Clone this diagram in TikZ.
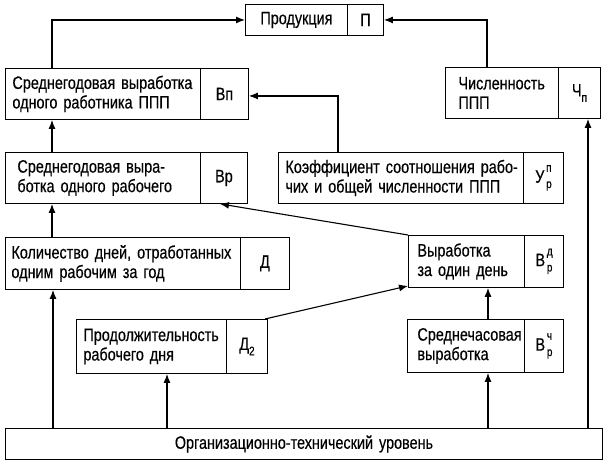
\documentclass[tikz,border=0pt]{standalone}
\usepackage{fontspec}
\setmainfont[FakeStretch=0.8,FakeBold=0.4,WordSpace=1.5]{Liberation Sans}
\usetikzlibrary{arrows.meta}
\newcommand\dfont{\fontsize{18}{19.5}\selectfont}
\newcommand\smfont{\fontsize{12.5}{12.5}\selectfont}
\newcommand\ssym[3]{#1\kern0.1em\rlap{\raisebox{0.6em}{\smfont #2}}\raisebox{-0.3em}{\smfont #3}}
\tikzset{
  bx/.style={draw, line width=0.9pt, anchor=north west, inner ysep=0pt, align=left, font=\dfont},
  sym/.style={draw, line width=0.9pt, anchor=north west, inner sep=0pt, align=center, font=\dfont},
  arr/.style={line width=1.1pt, -{Latex[length=9pt,width=7pt]}},
}
\begin{document}
\begin{tikzpicture}[x=1pt,y=-1pt]
\useasboundingbox (0,0) rectangle (609,466);
% top
\node[bx, inner xsep=0pt, text width=102pt, minimum height=31pt, align=center] (prodT) at (245,4) {Продукция};
\node[sym, minimum width=36pt, minimum height=31pt] (prodS) at (347,4) {П};
% row 2
\node[bx, inner xsep=7pt, text width=181pt, minimum height=51pt] (vpT) at (5,68) {\mbox{Среднегодовая выработка}\\одного работника ППП};
\node[sym, minimum width=48pt, minimum height=51pt] (vpS) at (200,68) {Вп};
\node[bx, inner xsep=13pt, text width=87pt, minimum height=51pt] (chT) at (445,67) {Численность\\ППП};
\node[sym, minimum width=42pt, minimum height=51pt] (chS) at (558,67) {Ч\raisebox{-0.3em}{\smfont п}};
% row 3
\node[bx, inner xsep=12pt, text width=171pt, minimum height=51pt] (vrT) at (5,152) {\mbox{Среднегодовая выра-}\\ботка одного рабочего};
\node[sym, minimum width=47pt, minimum height=51pt] (vrS) at (200,152) {Вр};
\node[bx, inner xsep=7pt, text width=231pt, minimum height=51pt] (koT) at (278,152) {\mbox{Коэффициент соотношения рабо-}\\\mbox{чих и общей численности ППП}};
\node[sym, minimum width=40pt, minimum height=51pt] (koS) at (523,152) {\ssym{У}{п}{р}};
% row 4
\node[bx, inner xsep=6pt, text width=223pt, minimum height=52pt] (dT) at (5,237) {\mbox{Количество дней, отработанных}\\одним рабочим за год};
\node[sym, minimum width=49pt, minimum height=52pt] (dS) at (240,237) {Д};
\node[bx, inner xsep=9pt, text width=98pt, minimum height=52pt] (vdT) at (408,235) {Выработка\\за один день};
\node[sym, minimum width=39pt, minimum height=52pt] (vdS) at (524,235) {\ssym{В}{д}{р}};
% row 5
\node[bx, inner xsep=7pt, text width=136pt, minimum height=54pt] (d2T) at (76,319) {\mbox{Продолжительность}\\рабочего дня};
\node[sym, minimum width=41pt, minimum height=54pt] (d2S) at (226,319) {Д\raisebox{-0.3em}{\smfont 2}};
\node[bx, inner xsep=10pt, text width=97pt, minimum height=53pt] (vchT) at (407,319) {\mbox{Среднечасовая}\\выработка};
\node[sym, minimum width=39pt, minimum height=53pt] (vchS) at (524,319) {\ssym{В}{ч}{р}};
% bottom
\node[sym, minimum width=597pt, minimum height=31pt] (org) at (5,428) {Организационно-технический уровень};
% connectors
\draw[arr] ([xshift=47pt]vpT.north west) |- (prodT.west);
\draw[arr] ([xshift=42pt]chT.north west) |- (prodS.east);
\draw[arr] ([xshift=47pt]vrT.north west) -- ([xshift=47pt]vpT.south west);
\draw[arr] ([xshift=47pt]dT.north west) -- ([xshift=47pt]vrT.south west);
\draw[arr] ([xshift=60pt]koT.north west) |- ([yshift=-2pt]vpS.east);
\draw[arr] (vdT.north west) -- ([xshift=20pt]vrS.south west);
\draw[arr] ([xshift=-3pt]d2S.north east) -- ([yshift=2pt]vdT.south west);
\draw[arr] ([xshift=81pt]vchT.north west) -- ([xshift=80pt]vdT.south west);
\coordinate (c1) at ([xshift=48pt]dT.south west);
\coordinate (c2) at ([xshift=91pt]d2T.south west);
\coordinate (c3) at ([xshift=81pt]vchT.south west);
\coordinate (c4) at ([xshift=30pt]chS.south west);
\draw[arr] (org.north -| c1) -- (c1);
\draw[arr] (org.north -| c2) -- (c2);
\draw[arr] (org.north -| c3) -- (c3);
\draw[arr] (org.north -| c4) -- (c4);
\end{tikzpicture}
\end{document}
